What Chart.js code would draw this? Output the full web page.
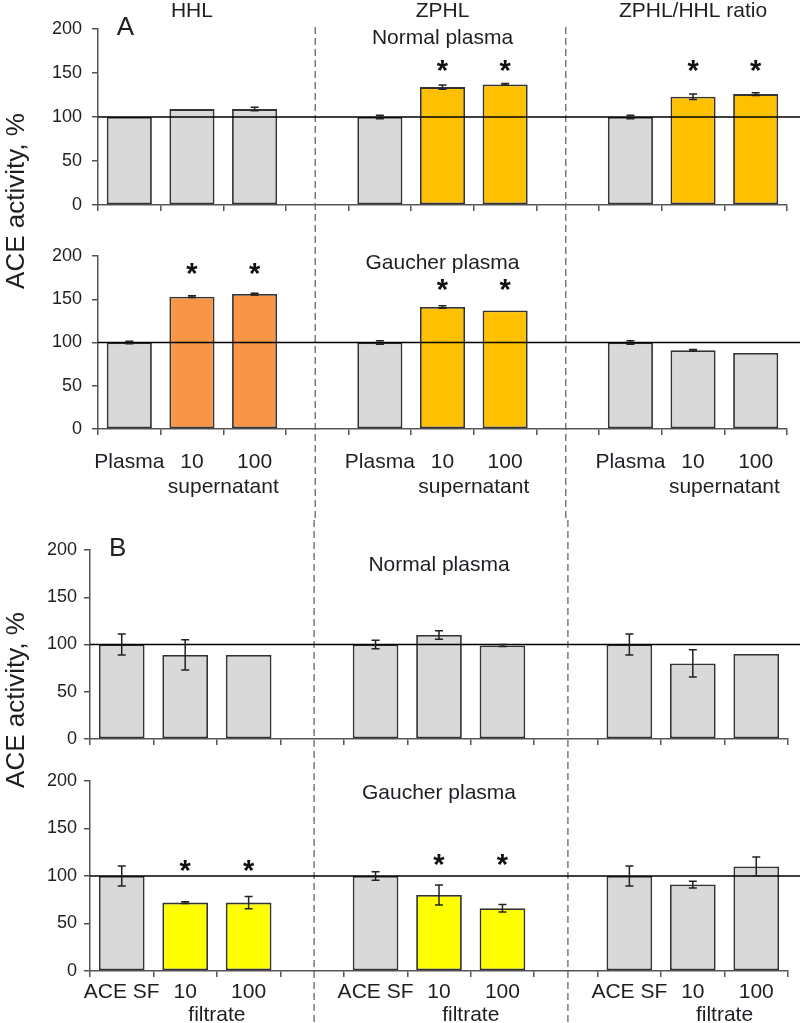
<!DOCTYPE html>
<html>
<head>
<meta charset="utf-8">
<title>ACE activity</title>
<script src="https://cdn.jsdelivr.net/npm/chart.js@4.4.1/dist/chart.umd.min.js"></script>
<style>
  body { margin: 0; background: #fff; }
  #wrap { position: relative; width: 800px; height: 1023px; overflow: hidden; }
  canvas { position: absolute; left: 0; }
</style>
</head>
<body>
<div id="wrap">
  <canvas id="a1" width="800" height="520" style="top:0px"></canvas>
  <canvas id="a2" width="800" height="288" style="top:232px"></canvas>
  <canvas id="b1" width="800" height="503" style="top:520px"></canvas>
  <canvas id="b2" width="800" height="263" style="top:760px"></canvas>
</div>
<script>
// categories (gaps between the three groups are empty categories)
const labelsA = ['Plasma', '10', '100', '', 'Plasma', '10', '100', '', 'Plasma', '10', '100'];
const labelsB = ['ACE SF', '10', '100', '', 'ACE SF', '10', '100', '', 'ACE SF', '10', '100'];
const groupTitles = ['HHL', 'ZPHL', 'ZPHL/HHL ratio'];

// A: supernatant, normal plasma
const normalA = [100, 109, 109, null, 100, 134, 137, null, 100, 123, 126];
const normalAErr = [0, 0, 2, null, 2, 2.5, 1, null, 2, 3, 1.5];
const normalAStars = [null, null, null, null, null, 158, 158, null, null, 158, 158];

// A: supernatant, Gaucher plasma
const gaucherA = [100, 153, 156, null, 100, 141, 137, null, 100, 91, 88];
const gaucherAErr = [1.5, 1, 1, null, 2, 1.5, 0, null, 2, 1, 0];
const gaucherAStars = [null, 185, 185, null, null, 166, 166, null, null, null, null];

// B: filtrate, normal plasma
const normalB = [100, 89, 89, null, 100, 110, 99, null, 100, 80, 90];
const normalBErr = [11, 16, 0, null, 4.5, 4.5, 1, null, 11, 14.5, 0];
const normalBStars = [null, null, null, null, null, null, null, null, null, null, null];

// B: filtrate, Gaucher plasma
const gaucherB = [100, 72, 72, null, 100, 80, 66, null, 100, 91, 110];
const gaucherBErr = [10.5, 1, 6.5, null, 4.5, 10.5, 4, null, 10.5, 3.5, 10];
const gaucherBStars = [null, 110.5, 110.5, null, null, 117, 117, null, null, null, null];

const FONT = '"Liberation Sans", Arial, sans-serif';
const TEXT = '#1e1e24';
const AXIS = '#555';
const EDGE = '#333';
const GREY = '#d9d9d9', GOLD = '#ffc000', ORANGE = '#f79646', YELLOW = '#ffff00';

const fillNormalA = [GREY, GREY, GREY, GREY, GREY, GOLD, GOLD, GREY, GREY, GOLD, GOLD];
const fillGaucherA = [GREY, ORANGE, ORANGE, GREY, GREY, GOLD, GOLD, GREY, GREY, GREY, GREY];
const fillNormalB = GREY;
const fillGaucherB = [GREY, YELLOW, YELLOW, GREY, GREY, YELLOW, YELLOW, GREY, GREY, GREY, GREY];

function extras(cfg) {
  return {
    id: 'extras',
    beforeDatasetsDraw(chart) {
      const ctx = chart.ctx, x = chart.scales.x;
      if (!cfg.panel) return;
      // dashed separators between the groups
      ctx.save();
      ctx.strokeStyle = '#666';
      ctx.lineWidth = 1.3;
      ctx.setLineDash([7, 4]);
      [3, 7].forEach(i => {
        const px = x.getPixelForValue(i) + cfg.dashShift;
        ctx.beginPath();
        ctx.moveTo(px, cfg.dashFrom);
        ctx.lineTo(px, chart.height);
        ctx.stroke();
      });
      ctx.restore();
    },
    afterDatasetsDraw(chart) {
      const ctx = chart.ctx, x = chart.scales.x, y = chart.scales.y, area = chart.chartArea;
      ctx.save();

      // 100 % reference line
      const y100 = y.getPixelForValue(100);
      ctx.strokeStyle = '#000';
      ctx.lineWidth = 1.5;
      ctx.beginPath();
      ctx.moveTo(area.left, y100);
      ctx.lineTo(chart.width, y100);
      ctx.stroke();

      // error bars
      ctx.strokeStyle = '#222';
      ctx.lineWidth = 1.5;
      chart.getDatasetMeta(0).data.forEach((bar, i) => {
        const v = cfg.values[i], e = cfg.errors[i];
        if (v == null || !e) return;
        const hi = y.getPixelForValue(v + e), lo = y.getPixelForValue(v - e);
        ctx.beginPath();
        ctx.moveTo(bar.x, hi); ctx.lineTo(bar.x, lo);
        ctx.moveTo(bar.x - 4, hi); ctx.lineTo(bar.x + 4, hi);
        ctx.moveTo(bar.x - 4, lo); ctx.lineTo(bar.x + 4, lo);
        ctx.stroke();
      });

      // significance stars
      ctx.fillStyle = '#111';
      ctx.font = 'bold 29px ' + FONT;
      ctx.textAlign = 'center';
      ctx.textBaseline = 'alphabetic';
      const m = ctx.measureText('*');
      const starMid = (m.actualBoundingBoxAscent - m.actualBoundingBoxDescent) / 2;
      cfg.stars.forEach((s, i) => {
        if (s == null) return;
        ctx.fillText('*', x.getPixelForValue(i), y.getPixelForValue(s) + starMid);
      });

      ctx.fillStyle = TEXT;
      ctx.textBaseline = 'middle';

      // sample note
      ctx.font = '21px ' + FONT;
      ctx.fillText(cfg.note, x.getPixelForValue(5), y.getPixelForValue(cfg.noteAt));

      // second-level x label
      if (cfg.sub) {
        [1, 5, 9].forEach(i => {
          const px = (x.getPixelForValue(i) + x.getPixelForValue(i + 1)) / 2;
          ctx.fillText(cfg.sub, px, area.bottom + cfg.subOffset);
        });
      }

      if (cfg.panel) {
        // panel letter
        ctx.font = '26px ' + FONT;
        ctx.fillText(cfg.panel, x.getPixelForValue(0) - 4, y.getPixelForValue(200) - 1);

        // group titles
        if (cfg.titles) {
          ctx.font = '21px ' + FONT;
          cfg.titles.forEach((t, k) => {
            const w = ctx.measureText(t).width;
            const px = Math.min(x.getPixelForValue(1 + 4 * k), area.right - w / 2);
            ctx.fillText(t, px, 11);
          });
        }

        // y axis title
        ctx.font = '26px ' + FONT;
        ctx.translate(17, cfg.yTitleAt);
        ctx.rotate(-Math.PI / 2);
        ctx.fillText('ACE activity, %', 0, 0);
      }
      ctx.restore();
    }
  };
}

function makeChart(id, cfg) {
  return new Chart(document.getElementById(id), {
    type: 'bar',
    data: {
      labels: cfg.labels,
      datasets: [{
        data: cfg.values,
        backgroundColor: cfg.fill,
        borderColor: EDGE,
        borderWidth: 1.8,
        borderSkipped: false,
        barPercentage: 0.72,
        categoryPercentage: 1
      }]
    },
    options: {
      responsive: false,
      animation: false,
      layout: { padding: { top: cfg.top, right: cfg.right, left: 0, bottom: 0 } },
      plugins: { legend: { display: false }, tooltip: { enabled: false } },
      scales: {
        x: {
          grid: { drawOnChartArea: false, tickLength: 6, color: AXIS, lineWidth: 1.5 },
          border: { color: AXIS, width: 1.5 },
          ticks: {
            display: cfg.showLabels, autoSkip: false, maxRotation: 0,
            padding: cfg.labelPad, color: TEXT, font: { family: FONT, size: 21 }
          },
          afterFit: s => { s.height = cfg.xHeight; }
        },
        y: {
          min: 0, max: 200,
          ticks: { stepSize: 50, padding: cfg.yPad, color: TEXT, font: { family: FONT, size: 18 } },
          grid: { drawOnChartArea: false, tickLength: 6, color: AXIS, lineWidth: 1.5 },
          border: { color: AXIS, width: 1.5 },
          afterFit: s => { s.width = cfg.yWidth; }
        }
      }
    },
    plugins: [extras(cfg)]
  });
}

makeChart('a1', {
  labels: labelsA, values: normalA, errors: normalAErr, stars: normalAStars, fill: fillNormalA,
  note: 'Normal plasma', noteAt: 190, panel: 'A', titles: groupTitles, yTitleAt: 201, dashFrom: 27, dashShift: -2,
  top: 29, right: 13, yWidth: 98, yPad: 10, xHeight: 315, showLabels: false, labelPad: 0
});
makeChart('a2', {
  labels: labelsA, values: gaucherA, errors: gaucherAErr, stars: gaucherAStars, fill: fillGaucherA,
  note: 'Gaucher plasma', noteAt: 192, sub: 'supernatant', subOffset: 58,
  top: 24, right: 13, yWidth: 98, yPad: 10, xHeight: 91, showLabels: true, labelPad: 15
});
makeChart('b1', {
  labels: labelsB, values: normalB, errors: normalBErr, stars: normalBStars, fill: fillNormalB,
  note: 'Normal plasma', noteAt: 184, panel: 'B', yTitleAt: 180, dashFrom: 0, dashShift: 2,
  top: 30, right: 12, yWidth: 90, yPad: 7, xHeight: 284, showLabels: false, labelPad: 0
});
makeChart('b2', {
  labels: labelsB, values: gaucherB, errors: gaucherBErr, stars: gaucherBStars, fill: fillGaucherB,
  note: 'Gaucher plasma', noteAt: 187, sub: 'filtrate', subOffset: 44,
  top: 21, right: 12, yWidth: 90, yPad: 7, xHeight: 52, showLabels: true, labelPad: 3
});
</script>
</body>
</html>
